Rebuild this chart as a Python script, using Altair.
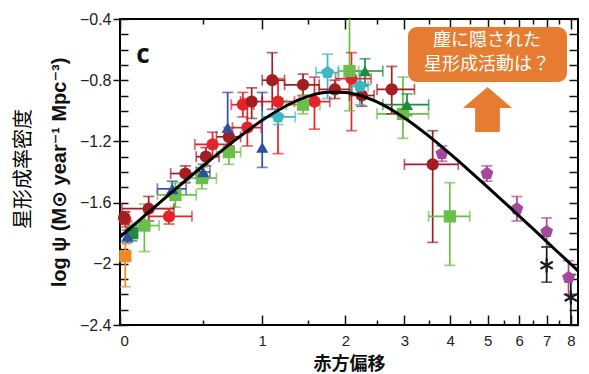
import altair as alt
import pandas as pd

# ---------------- data ----------------
series = (["red"] * 8 + ["darkred"] * 12 + ["green"] * 8 + ["dkgreen_sq"] + ["dkgreen_tri"] * 2
          + ["blue"] * 5 + ["cyan"] * 3 + ["purple"] * 5 + ["orange"] + ["black"] * 2)
z = [0.026, 0.27, 0.57, 0.82, 0.86, 1.16, 1.58, 2.09,
     0.02, 0.15, 0.375, 0.52, 0.70, 0.90, 1.10, 1.44, 1.85, 2.25, 2.76, 3.59,
     0.126, 0.31, 0.49, 0.70, 1.44, 2.06, 2.97, 3.99,
     0.06, 2.30, 3.05,
     0.036, 0.29, 0.50, 0.69, 1.0,
     1.16, 1.75, 2.22,
     3.8, 4.98, 5.92, 7.0, 7.9,
     0.026,
     7.0, 8.0]
zlo = [0.01, 0.15, 0.44, 0.72, 0.73, 1.0, 1.4, 1.86,
       0.0, 0.01, 0.28, 0.45, 0.6, 0.8, 1.0, 1.23, 1.64, 2.06, 2.5, 3.0,
       0.06, 0.2, 0.4, 0.6, 1.25, 1.9, 2.5, 3.5,
       0.03, 2.0, 2.6,
       None, 0.2, 0.45, None, None,
       1.0, 1.6, 2.1,
       None, None, None, None, None,
       None,
       None, None]
zhi = [0.045, 0.42, 0.72, 0.92, 0.99, 1.34, 1.78, 2.4,
       0.04, 0.30, 0.47, 0.62, 0.8, 1.0, 1.23, 1.64, 2.06, 2.45, 3.2, 4.2,
       0.21, 0.45, 0.6, 0.8, 1.65, 2.2, 3.5, 4.5,
       0.09, 2.6, 3.5,
       None, 0.38, 0.55, None, None,
       1.35, 1.9, 2.35,
       None, None, None, None, None,
       None,
       None, None]
logpsi = [-1.71, -1.69, -1.22, -0.96, -1.11, -0.94, -0.94, -0.79,
          -1.70, -1.64, -1.41, -1.30, -1.17, -0.94, -0.80, -0.83, -0.86, -0.90, -0.86, -1.35,
          -1.75, -1.55, -1.44, -1.27, -0.96, -0.74, -1.02, -1.69,
          -1.80, -0.74, -0.96,
          -1.82, -1.51, -1.40, -1.11, -1.24,
          -1.04, -0.75, -0.84,
          -1.28, -1.41, -1.64, -1.79, -2.09,
          -1.95,
          -2.01, -2.22]
ylo = [-1.76, -1.74, -1.30, -1.04, -1.23, -1.28, -1.12, -1.13,
       -1.74, -1.72, -1.47, -1.36, -1.23, -1.05, -0.99, -0.90, -0.92, -0.97, -1.02, -1.86,
       -1.92, -1.63, -1.51, -1.35, -1.02, -1.00, -1.18, -2.01,
       -1.85, -0.83, -1.03,
       -1.86, -1.56, -1.45, -1.25, -1.37,
       -1.09, -0.92, -0.96,
       -1.33, -1.46, -1.72, -1.89, -2.20,
       -2.15,
       -2.12, -2.45]
yhi = [-1.66, -1.64, -1.14, -0.88, -0.92, -0.79, -0.78, -0.62,
       -1.66, -1.56, -1.36, -1.24, -1.11, -0.85, -0.62, -0.76, -0.80, -0.83, -0.71, -1.13,
       -1.61, -1.47, -1.37, -1.19, -0.90, -0.20, -0.78, -1.47,
       -1.75, -0.66, -0.89,
       -1.78, -1.46, -1.35, -0.88, -0.88,
       -0.99, -0.63, -0.74,
       -1.23, -1.36, -1.56, -1.70, -1.98,
       -1.87,
       -1.89, -2.07]

# fitted curve
curve_z = [0, 0.25, 0.5, 0.75, 1.0, 1.25, 1.5, 1.75, 2.0, 2.25, 2.5, 3.0, 3.5,
           4.0, 4.5, 5.0, 5.5, 6.0, 6.5, 7.0, 7.5, 8.0, 8.32]
curve_y = [-1.825, -1.566, -1.359, -1.193, -1.062, -0.967, -0.906, -0.879, -0.880,
           -0.903, -0.942, -1.047, -1.164, -1.282, -1.394, -1.499, -1.597, -1.688,
           -1.774, -1.855, -1.931, -2.002, -2.046]

x_major = [1, 2, 3, 4, 5, 6, 7, 8, 9]          # 1+z for z = 0..8
x_minor = [1.5, 2.5, 3.5, 4.5, 5.5, 6.5, 7.5, 8.5]
y_major = [-2.4, -2.0, -1.6, -1.2, -0.8, -0.4]
y_minor = [round(-2.4 + 0.1 * i, 1) for i in range(21)]

sdom = ["red", "darkred", "green", "dkgreen_sq", "dkgreen_tri", "blue", "cyan", "purple", "orange", "black"]
scol = ["#E2242B", "#A11E22", "#6BBE47", "#1E8B3E", "#1E8B3E", "#2F4F9F", "#3DB7C2", "#A6479C", "#EE8A2A", "#1a1a1a"]
PENT = "M0,-1.1L1.046,-0.34L0.647,0.89L-0.647,0.89L-1.046,-0.34Z"
sshape = ["circle", "circle", "square", "square", "triangle-up", "triangle-up", PENT, PENT, "square", "circle"]
ASTER = "M0,-1L0,1M-0.87,-0.5L0.87,0.5M-0.87,0.5L0.87,-0.5"
ARROW = "M0,-1L1.09,-0.07L0.55,-0.07L0.55,1L-0.55,1L-0.55,-0.07L-1.09,-0.07Z"

df = pd.DataFrame(dict(series=series, z=z, zlo=zlo, zhi=zhi, y=logpsi, ylo=ylo, yhi=yhi))
cdf = pd.DataFrame(dict(z=curve_z, y=curve_y))

FONT = "Liberation Sans"
JFONT = "Noto Sans CJK JP"
ORANGE = "#E57C31"

xs = alt.Scale(type="log", domain=[1, 9.32], nice=False)
ys = alt.Scale(domain=[-2.4, -0.4], nice=False, zero=False)
col = alt.Color("series:N", scale=alt.Scale(domain=sdom, range=scol), legend=None)

base = alt.Chart(df).transform_calculate(zp="1+datum.z", zlp="1+datum.zlo", zhp="1+datum.zhi")

# error bars
vbar = base.mark_rule(strokeWidth=1.7, clip=True).encode(
    x=alt.X("zp:Q", scale=xs, axis=None), y=alt.Y("ylo:Q", scale=ys, axis=None), y2="yhi:Q", color=col)
vcap_lo = base.mark_tick(orient="horizontal", size=11, thickness=1.7, clip=True).encode(
    x=alt.X("zp:Q", scale=xs, axis=None), y=alt.Y("ylo:Q", scale=ys, axis=None), color=col)
vcap_hi = base.mark_tick(orient="horizontal", size=11, thickness=1.7, clip=True).encode(
    x=alt.X("zp:Q", scale=xs, axis=None), y=alt.Y("yhi:Q", scale=ys, axis=None), color=col)
hbase = base.transform_filter("isValid(datum.zlo)")
hbar = hbase.mark_rule(strokeWidth=1.7, clip=True).encode(
    x=alt.X("zlp:Q", scale=xs, axis=None), x2="zhp:Q", y=alt.Y("y:Q", scale=ys, axis=None), color=col)
hcap_lo = hbase.mark_tick(orient="vertical", size=11, thickness=1.7, clip=True).encode(
    x=alt.X("zlp:Q", scale=xs, axis=None), y=alt.Y("y:Q", scale=ys, axis=None), color=col)
hcap_hi = hbase.mark_tick(orient="vertical", size=11, thickness=1.7, clip=True).encode(
    x=alt.X("zhp:Q", scale=xs, axis=None), y=alt.Y("y:Q", scale=ys, axis=None), color=col)

main_x = alt.Axis(orient="bottom", values=x_major, labelExpr="format(datum.value - 1, 'd')",
                  ticks=False, domain=False, grid=False, labelFontSize=15, labelFont=FONT,
                  labelColor="#222", labelPadding=8, title="赤方偏移", titleFont=JFONT,
                  titleFontSize=18, titleFontWeight="bold", titleColor="#111", titlePadding=7)
main_y = alt.Axis(orient="left", values=y_major, labelExpr="replace(format(datum.value, '~g'), '-', '−')",
                  tickSize=7, tickWidth=1.5, tickColor="#111", domain=False, grid=False,
                  labelFontSize=16, labelFont=FONT, labelColor="#222", labelPadding=2,
                  title="log ψ (M⊙ year⁻¹ Mpc⁻³)", titleFont=FONT + ", DejaVu Sans",
                  titleFontSize=20, titleFontWeight="bold", titleColor="#111", titlePadding=10)

pts = base.transform_filter("datum.series != 'black'").mark_point(
    filled=True, opacity=1, size=150, strokeWidth=0).encode(
    x=alt.X("zp:Q", scale=xs, axis=None),
    y=alt.Y("y:Q", scale=ys, axis=None),
    color=col,
    shape=alt.Shape("series:N", scale=alt.Scale(domain=sdom, range=sshape), legend=None))

stars = base.transform_filter("datum.series == 'black'").mark_point(
    shape=ASTER, filled=False, size=200, strokeWidth=2.2, color="#1a1a1a", opacity=1).encode(
    x=alt.X("zp:Q", scale=xs, axis=None), y=alt.Y("y:Q", scale=ys, axis=None))

curve = alt.Chart(cdf).transform_calculate(zp="1+datum.z").mark_line(
    color="black", strokeWidth=3, interpolate="monotone", clip=True).encode(
    x=alt.X("zp:Q", scale=xs, axis=None), y=alt.Y("y:Q", scale=ys, axis=None))


def tick_axis(orient, values, size):
    return alt.Axis(orient=orient, values=values, tickSize=size, offset=-size, labels=False,
                    domain=False, grid=False, title=None, ticks=True, tickColor="#111", tickWidth=1.5)


def host(xaxis, yaxis):
    return alt.Chart(cdf).transform_calculate(zp="1+datum.z").mark_point(opacity=0).encode(
        x=alt.X("zp:Q", scale=xs, axis=xaxis), y=alt.Y("y:Q", scale=ys, axis=yaxis))


h0 = host(main_x, main_y)
h1 = host(tick_axis("bottom", x_major, 10), tick_axis("left", y_minor, 8))
h2 = host(tick_axis("bottom", x_minor, 5), tick_axis("right", y_minor, 9))
h3 = host(tick_axis("top", x_major, 10), None)
h4 = host(tick_axis("top", x_minor, 5), None)

one = pd.DataFrame({"k": [0]})
label_c = alt.Chart(one).mark_text(text="c", fontSize=26, fontWeight="bold", font="Open Sans",
                                   align="center", baseline="middle", color="#111").encode(
    x=alt.value(23), y=alt.value(36))
box = alt.Chart(one).mark_rect(cornerRadius=9, color=ORANGE).encode(
    x=alt.value(288), x2=alt.value(447), y=alt.value(8), y2=alt.value(63))
txt1 = alt.Chart(one).mark_text(text="塵に隠された", fontSize=18, font=JFONT, color="white",
                                align="center", baseline="middle").encode(x=alt.value(367), y=alt.value(22))
txt2 = alt.Chart(one).mark_text(text="星形成活動は？", fontSize=18, font=JFONT, color="white",
                                align="center", baseline="middle").encode(x=alt.value(367), y=alt.value(46))
arrow = alt.Chart(one).mark_point(shape=ARROW, size=2025, filled=True, color=ORANGE, opacity=1,
                                  strokeWidth=0).encode(x=alt.value(367.5), y=alt.value(90.5))
jlabel = alt.Chart(one).mark_text(text="星形成率密度", fontSize=20, font=JFONT, angle=270,
                                  align="center", baseline="middle", color="#000").encode(
    x=alt.value(-96), y=alt.value(150))

chart = alt.layer(
    h0, h1, h2, h3, h4,
    vbar, hbar, vcap_lo, vcap_hi, hcap_lo, hcap_hi,
    pts, stars, curve, label_c, box, txt1, txt2, arrow, jlabel
).resolve_axis(x="independent", y="independent").properties(
    width=458, height=306, padding={"left": 14, "top": 11, "right": 5, "bottom": 5},
    background="white"
).configure_view(stroke="black", strokeWidth=2)

chart.save("out.html", embed_options={"renderer": "svg", "actions": False})
